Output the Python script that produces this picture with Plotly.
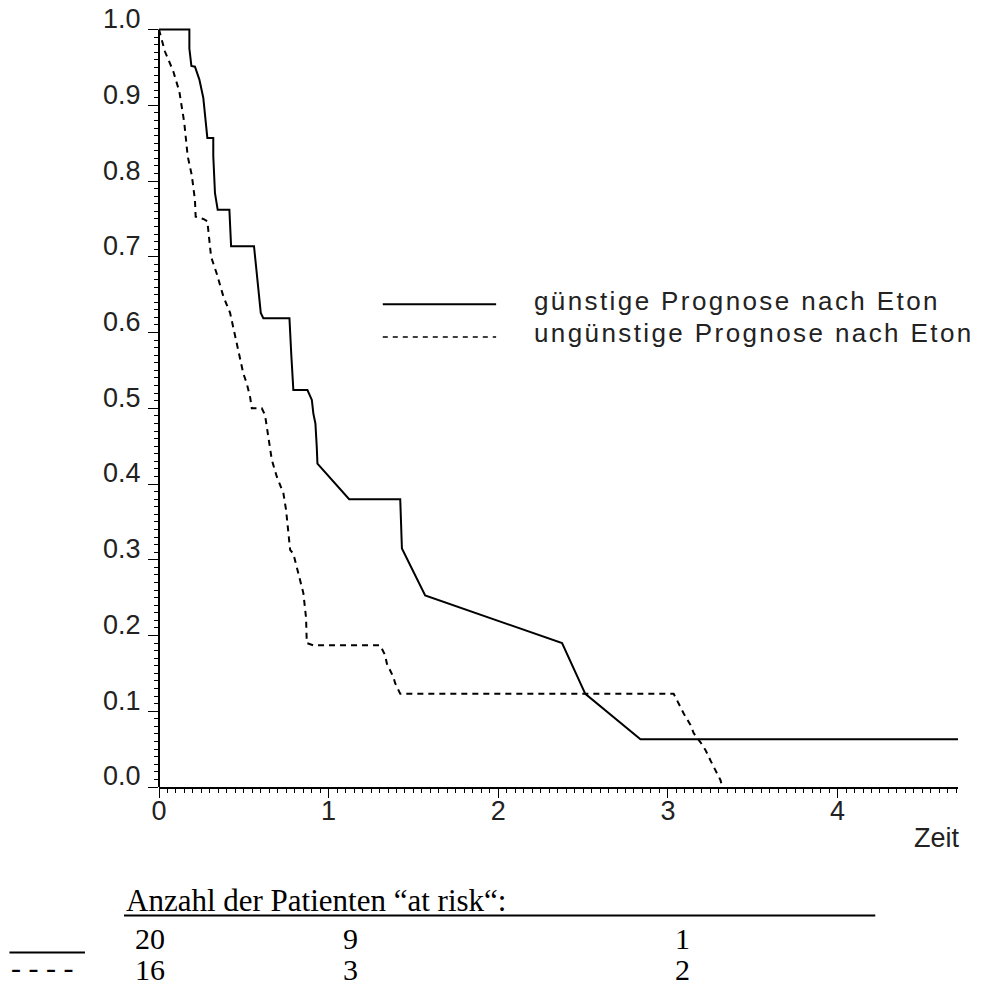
import plotly.graph_objects as go

# ---------------- data ----------------
solid_t = [0, 0.179, 0.179, 0.191, 0.212, 0.238, 0.261, 0.277, 0.285, 0.320, 0.320, 0.330,
           0.346, 0.415, 0.425, 0.560, 0.576, 0.600, 0.615, 0.769, 0.780, 0.792, 0.875,
           0.891, 0.901, 0.910, 0.922, 0.930, 0.934, 1.121, 1.422, 1.432, 1.569, 2.376,
           2.513, 2.838, 4.71]
solid_v = [1.0, 1.0, 0.975, 0.952, 0.951, 0.934, 0.910, 0.870, 0.857, 0.857, 0.833, 0.784,
           0.762, 0.762, 0.714, 0.714, 0.678, 0.626, 0.619, 0.619, 0.570, 0.524, 0.524,
           0.515, 0.511, 0.493, 0.480, 0.449, 0.427, 0.380, 0.380, 0.315, 0.253, 0.190,
           0.123, 0.063, 0.063]

dash_t = [0, 0.035, 0.084, 0.120, 0.149, 0.169, 0.193, 0.212, 0.216, 0.261, 0.285, 0.307,
          0.340, 0.379, 0.419, 0.458, 0.478, 0.497, 0.517, 0.537, 0.547, 0.606, 0.625,
          0.635, 0.645, 0.665, 0.694, 0.733, 0.749, 0.763, 0.773, 0.792, 0.812, 0.832,
          0.851, 0.867, 0.871, 0.910, 1.304, 1.333, 1.343, 1.382, 1.392, 1.422, 3.034,
          3.064, 3.093, 3.133, 3.152, 3.192, 3.221, 3.251, 3.280, 3.310, 3.320]
dash_v = [1.0, 0.971, 0.945, 0.918, 0.877, 0.833, 0.808, 0.775, 0.753, 0.750, 0.747, 0.700,
          0.678, 0.648, 0.626, 0.586, 0.564, 0.546, 0.533, 0.515, 0.500, 0.500, 0.491,
          0.476, 0.458, 0.432, 0.410, 0.388, 0.366, 0.335, 0.313, 0.308, 0.291, 0.273,
          0.256, 0.223, 0.190, 0.187, 0.187, 0.174, 0.163, 0.145, 0.137, 0.123, 0.123,
          0.110, 0.097, 0.082, 0.071, 0.059, 0.049, 0.035, 0.022, 0.009, 0.0]

series_names = ["günstige Prognose nach Eton", "ungünstige Prognose nach Eton"]
y_ticks = [0.0, 0.1, 0.2, 0.3, 0.4, 0.5, 0.6, 0.7, 0.8, 0.9, 1.0]
x_ticks = [0, 1, 2, 3, 4]
risk_header = "Anzahl der Patienten \u201cat risk\u201c:"
risk_solid = ["20", "9", "1"]
risk_dashed = ["16", "3", "2"]

# ---------------- layout geometry (pixels) ----------------
FW, FH = 982, 991
L, R = 159, 957.7
T, B = 22.4, 786.7
W, H = R - L, B - T


def xp(px):
    return (px - L) / W


def yp(py):
    return (B - py) / H


fig = go.Figure()
fig.add_trace(go.Scatter(x=solid_t, y=solid_v, mode="lines", name=series_names[0],
                         line=dict(color="black", width=2), showlegend=False))
fig.add_trace(go.Scatter(x=dash_t, y=dash_v, mode="lines", name=series_names[1],
                         line=dict(color="black", width=2, dash="6px,5px"), showlegend=False))

tick_font = dict(family="Liberation Sans, Arial, sans-serif", size=27, color="#222")

minor_y = [i / 100 for i in range(101) if i % 10]
minor_x = [i * 0.05 for i in range(95) if i % 20]

fig.update_layout(
    width=FW, height=FH,
    margin=dict(l=L, r=FW - R, t=T, b=FH - B, pad=0, autoexpand=False),
    paper_bgcolor="white", plot_bgcolor="white",
    showlegend=False,
    xaxis=dict(range=[0, 4.71], showgrid=False, zeroline=False, automargin=False,
               showline=True, linecolor="black", linewidth=2,
               ticks="outside", ticklen=9, tickwidth=1, tickcolor="black",
               tickvals=x_ticks, ticktext=[str(v) for v in x_ticks],
               tickfont=tick_font, ticklabelstandoff=-10,
               minor=dict(tickvals=minor_x, ticks="outside", ticklen=4,
                          tickwidth=1, tickcolor="black", showgrid=False)),
    yaxis=dict(range=[0, 1.01], showgrid=False, zeroline=False, showline=False,
               automargin=False,
               ticks="outside", ticklen=10, tickwidth=1, tickcolor="black",
               tickvals=y_ticks, ticktext=["%.1f" % v for v in y_ticks],
               tickfont=tick_font, ticklabelshift=-11, ticklabelstandoff=2,
               minor=dict(tickvals=minor_y, ticks="outside", ticklen=4,
                          tickwidth=1, tickcolor="black", showgrid=False)),
)

shapes = []
# y axis line (stops at 1.0)
shapes.append(dict(type="line", xref="paper", yref="y", x0=0, x1=0, y0=0, y1=1.0,
                   line=dict(color="black", width=2)))
# legend lines
shapes.append(dict(type="line", xref="paper", yref="paper", x0=xp(382.7), x1=xp(496),
                   y0=yp(304.5), y1=yp(304.5), line=dict(color="black", width=2)))
shapes.append(dict(type="line", xref="paper", yref="paper", x0=xp(382.7), x1=xp(496),
                   y0=yp(337), y1=yp(337), line=dict(color="black", width=1.5, dash="5px,5px")))
# underline of risk header
shapes.append(dict(type="line", xref="paper", yref="paper", x0=xp(124), x1=xp(875),
                   y0=yp(915), y1=yp(915), line=dict(color="black", width=2)))
# solid marker in risk table
shapes.append(dict(type="line", xref="paper", yref="paper", x0=xp(9.5), x1=xp(85),
                   y0=yp(952), y1=yp(952), line=dict(color="black", width=2)))
fig.update_layout(shapes=shapes)

ann = []
leg_font = dict(family="Liberation Sans, Arial, sans-serif", size=26, color="#222")
for name, yy in zip(series_names, [301, 333]):
    ann.append(dict(xref="paper", yref="paper", x=xp(532), y=yp(yy), xanchor="left",
                    yanchor="middle", showarrow=False, font=leg_font,
                    text='<span style="letter-spacing:2.4px">%s</span>' % name))
ann.append(dict(xref="paper", yref="paper", x=xp(962), y=yp(838), xanchor="right",
                yanchor="middle", showarrow=False, font=tick_font, text="Zeit"))

serif = dict(family="Liberation Serif, Times New Roman, serif", size=30, color="black")
ann.append(dict(xref="paper", yref="paper", x=xp(124), y=yp(900), xanchor="left",
                yanchor="middle", showarrow=False, font=dict(serif, size=31), text=risk_header))
col_x = [133, 341, 673]
for txt, cx in zip(risk_solid, col_x):
    ann.append(dict(xref="paper", yref="paper", x=xp(cx), y=yp(938), xanchor="left",
                    yanchor="middle", showarrow=False, font=serif, text=txt))
for txt, cx in zip(risk_dashed, col_x):
    ann.append(dict(xref="paper", yref="paper", x=xp(cx), y=yp(969), xanchor="left",
                    yanchor="middle", showarrow=False, font=serif, text=txt))
ann.append(dict(xref="paper", yref="paper", x=xp(9.5), y=yp(967), xanchor="left",
                yanchor="middle", showarrow=False, font=serif, text="- - - -"))
fig.update_layout(annotations=ann)

fig.write_html("out.html")
